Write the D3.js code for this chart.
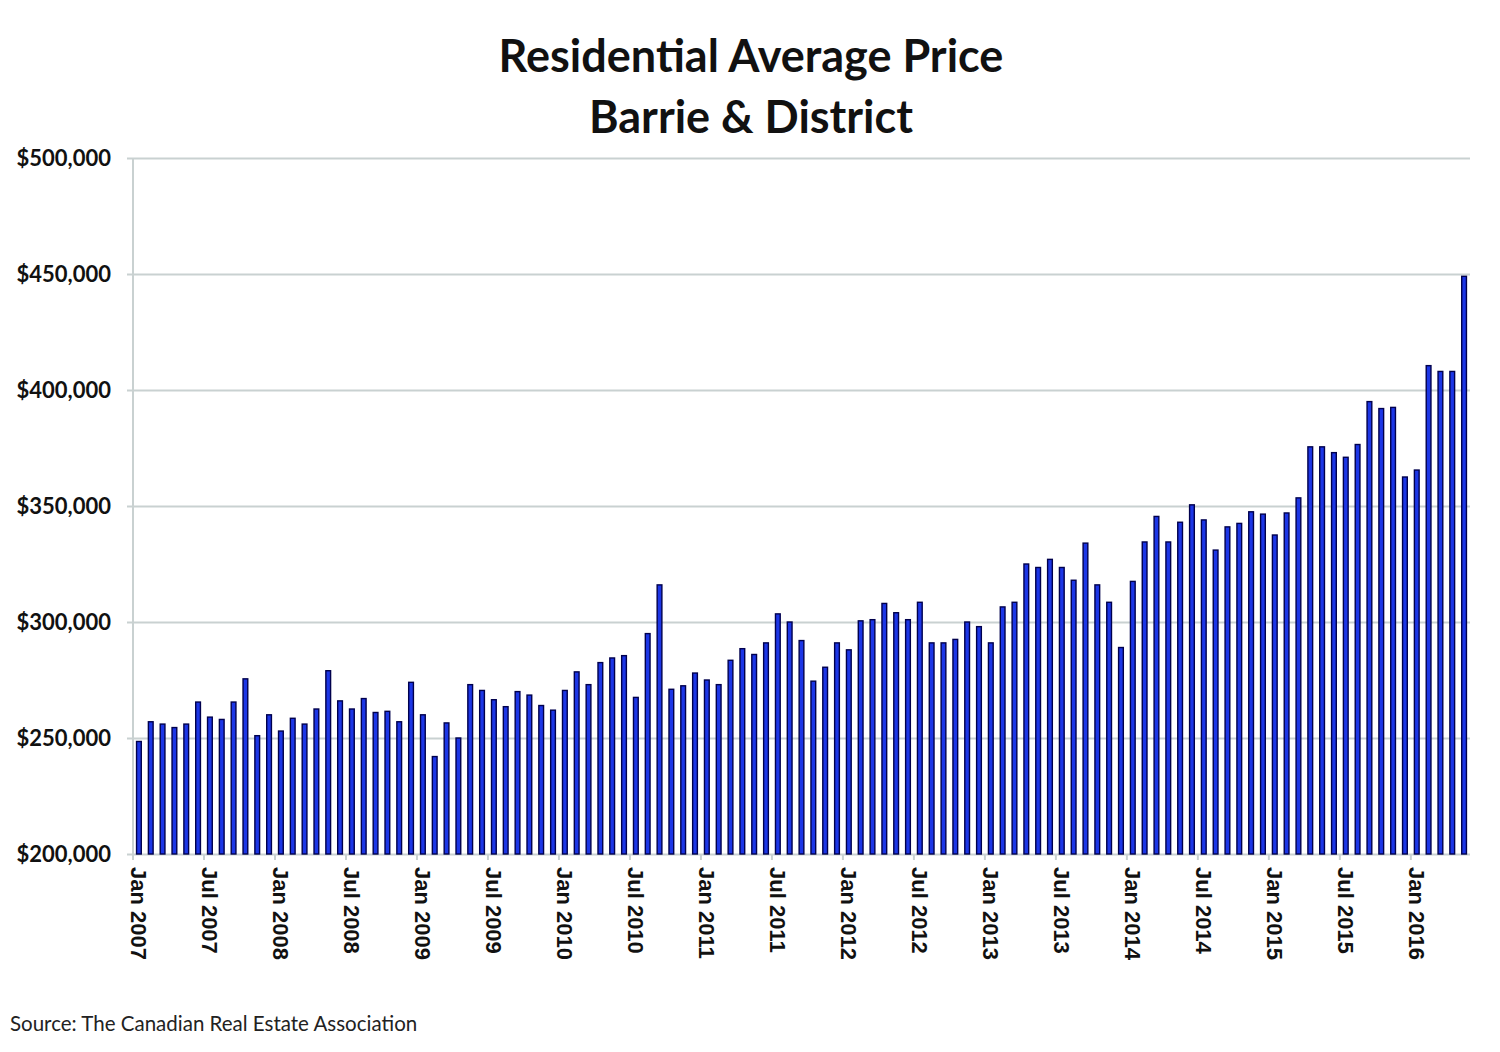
<!DOCTYPE html>
<html>
<head>
<meta charset="utf-8">
<script src="https://cdn.jsdelivr.net/npm/d3@7/dist/d3.min.js"></script>
<style>
  html, body { margin: 0; padding: 0; background: #fff; }
  #chart { width: 1500px; height: 1052px; }
</style>
</head>
<body>
<div id="chart"></div>
<script>
// Residential average price, Barrie & District, monthly (CAD)
const price2007 = [248500, 257000, 256000, 254500, 256000, 265500, 259000, 258000, 265500, 275500, 251000, 260000];
const price2008 = [253000, 258500, 256000, 262500, 279000, 266000, 262500, 267000, 261000, 261500, 257000, 274000];
const price2009 = [260000, 242000, 256500, 250000, 273000, 270500, 266500, 263500, 270000, 268500, 264000, 262000];
const price2010 = [270500, 278500, 273000, 282500, 284500, 285500, 267500, 295000, 316000, 271000, 272500, 278000];
const price2011 = [275000, 273000, 283500, 288500, 286000, 291000, 303500, 300000, 292000, 274500, 280500, 291000];
const price2012 = [288000, 300500, 301000, 308000, 304000, 301000, 308500, 291000, 291000, 292500, 300000, 298000];
const price2013 = [291000, 306500, 308500, 325000, 323500, 327000, 323500, 318000, 334000, 316000, 308500, 289000];
const price2014 = [317500, 334500, 345500, 334500, 343000, 350500, 344000, 331000, 341000, 342500, 347500, 346500];
const price2015 = [337500, 347000, 353500, 375500, 375500, 373000, 371000, 376500, 395000, 392000, 392500, 362500];
const price2016 = [365500, 410500, 408000, 408000, 449000];

const prices = [].concat(price2007, price2008, price2009, price2010, price2011,
                         price2012, price2013, price2014, price2015, price2016);

// one category per month, Jan 2007 onward
const months = d3.timeMonths(new Date(2007, 0, 1), new Date(2007, prices.length, 1));
const yTicks = [200000, 250000, 300000, 350000, 400000, 450000, 500000];

const titleLines = ['Residential Average Price', 'Barrie & District'];
const sourceText = 'Source: The Canadian Real Estate Association';

const W = 1500, H = 1052;
const M = { top: 158, right: 30, bottom: 198, left: 133 };
const GRID = '#c9d1d1';
const fmtMonth = d3.timeFormat('%b %Y');
const fmtPrice = d3.format('$,.0f');

const data = months.map((m, i) => ({ month: m, price: prices[i] }));

const svg = d3.select('#chart').append('svg')
  .attr('width', W).attr('height', H);

const x = d3.scaleBand()
  .domain(data.map(d => d.month))
  .range([M.left, W - M.right])
  .paddingInner(0.6)
  .paddingOuter(0.3);

const y = d3.scaleLinear()
  .domain([200000, 500000])
  .range([H - M.bottom, M.top]);

// Title
svg.append('text')
  .attr('x', 751).attr('y', 0)
  .attr('text-anchor', 'middle')
  .attr('font-family', 'Lato, "Open Sans", sans-serif')
  .attr('font-weight', 700)
  .attr('font-size', 45)
  .attr('fill', '#111')
  .selectAll('tspan')
  .data(titleLines)
  .join('tspan')
  .attr('x', 751)
  .attr('y', (d, i) => 72 + i * 61)
  .text(d => d);

// Y axis with gridlines
const yAxis = svg.append('g')
  .attr('transform', `translate(${M.left},0)`)
  .call(d3.axisLeft(y)
    .tickValues(yTicks)
    .tickFormat(fmtPrice)
    .tickSize(-(W - M.right - M.left))
    .tickSizeOuter(0)
    .tickPadding(22));

yAxis.select('.domain')
  .attr('stroke', GRID).attr('stroke-width', 2)
  .attr('d', `M0,${y(500000)}V${y(200000)}`);
yAxis.selectAll('.tick line')
  .attr('stroke', GRID).attr('stroke-width', 2)
  .attr('x1', -6);
yAxis.selectAll('.tick text')
  .attr('font-family', 'Lato, "Open Sans", sans-serif')
  .attr('font-weight', 700)
  .attr('font-size', 22)
  .attr('fill', '#111');

// Bars
svg.append('g')
  .selectAll('rect')
  .data(data)
  .join('rect')
  .attr('x', d => x(d.month))
  .attr('y', d => y(d.price))
  .attr('width', x.bandwidth())
  .attr('height', d => y(200000) - y(d.price))
  .attr('fill', '#1c36e6')
  .attr('stroke', '#00004d')
  .attr('stroke-width', 1.4);

// X axis: ticks on boundaries every six months, labels under the month
const step = x.step();
const labelled = data.filter((d, i) => i % 6 === 0);
const xAxis = svg.append('g');

xAxis.selectAll('line')
  .data(labelled)
  .join('line')
  .attr('x1', d => x(d.month) + x.bandwidth() / 2 - step / 2)
  .attr('x2', d => x(d.month) + x.bandwidth() / 2 - step / 2)
  .attr('y1', y(200000))
  .attr('y2', y(200000) + 6)
  .attr('stroke', GRID).attr('stroke-width', 2);

xAxis.selectAll('text')
  .data(labelled)
  .join('text')
  .attr('transform', d => `translate(${x(d.month) + x.bandwidth() / 2},${y(200000) + 13}) rotate(90)`)
  .attr('dy', '0.36em')
  .attr('text-anchor', 'start')
  .attr('font-family', '"Liberation Sans", Arial, sans-serif')
  .attr('font-weight', 700)
  .attr('font-size', 22)
  .attr('fill', '#111')
  .text(d => fmtMonth(d.month));

// Source note
svg.append('text')
  .attr('x', 10).attr('y', 1031)
  .attr('font-family', 'Lato, "Open Sans", sans-serif')
  .attr('font-size', 20.5)
  .attr('fill', '#222')
  .text(sourceText);
</script>
</body>
</html>
